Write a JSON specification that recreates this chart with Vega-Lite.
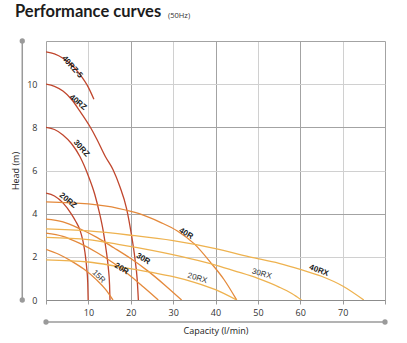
{
  "$schema": "https://vega.github.io/schema/vega-lite/v6.json",
  "width": 339,
  "height": 259,
  "autosize": {"type": "none"},
  "padding": {"left": 46, "top": 41, "right": 22, "bottom": 43},
  "background": "white",
  "config": {"view": {"stroke": null}, "font": "Open Sans"},
  "title": {"text": "Performance curves", "anchor": "start", "frame": "group", "dx": -31, "offset": -21.5, "baseline": "alphabetic", "font": "Lato", "fontSize": 16.5, "fontWeight": "bold", "color": "#1c1c1c"},
  "datasets": {
    "curves": [
      {"s": "40RZ-5", "q": 0, "h": 11.5}, {"s": "40RZ-5", "q": 2, "h": 11.4}, {"s": "40RZ-5", "q": 4, "h": 11.2}, {"s": "40RZ-5", "q": 6, "h": 10.9}, {"s": "40RZ-5", "q": 8, "h": 10.45}, {"s": "40RZ-5", "q": 10, "h": 9.85}, {"s": "40RZ-5", "q": 11.3, "h": 9.3},
      {"s": "40RZ", "q": 0, "h": 10}, {"s": "40RZ", "q": 2, "h": 9.9}, {"s": "40RZ", "q": 4, "h": 9.68}, {"s": "40RZ", "q": 6, "h": 9.3}, {"s": "40RZ", "q": 8, "h": 8.75}, {"s": "40RZ", "q": 10.3, "h": 8.06}, {"s": "40RZ", "q": 12, "h": 7.45}, {"s": "40RZ", "q": 14, "h": 6.65}, {"s": "40RZ", "q": 15.8, "h": 6.05}, {"s": "40RZ", "q": 17.4, "h": 5.27}, {"s": "40RZ", "q": 19, "h": 4.25}, {"s": "40RZ", "q": 20.1, "h": 3.1}, {"s": "40RZ", "q": 21, "h": 1.9}, {"s": "40RZ", "q": 21.5, "h": 1.0}, {"s": "40RZ", "q": 21.8, "h": 0},
      {"s": "30RZ", "q": 0, "h": 8}, {"s": "30RZ", "q": 2, "h": 7.9}, {"s": "30RZ", "q": 4, "h": 7.65}, {"s": "30RZ", "q": 6, "h": 7.25}, {"s": "30RZ", "q": 8, "h": 6.65}, {"s": "30RZ", "q": 10, "h": 5.75}, {"s": "30RZ", "q": 11.5, "h": 4.9}, {"s": "30RZ", "q": 12.6, "h": 4.05}, {"s": "30RZ", "q": 13.5, "h": 3.2}, {"s": "30RZ", "q": 14.2, "h": 2.3}, {"s": "30RZ", "q": 14.7, "h": 1.5}, {"s": "30RZ", "q": 15, "h": 0.7}, {"s": "30RZ", "q": 15.1, "h": 0},
      {"s": "20RZ", "q": 0, "h": 4.95}, {"s": "20RZ", "q": 2, "h": 4.82}, {"s": "20RZ", "q": 4, "h": 4.5}, {"s": "20RZ", "q": 6, "h": 3.98}, {"s": "20RZ", "q": 7, "h": 3.65}, {"s": "20RZ", "q": 8, "h": 3.25}, {"s": "20RZ", "q": 8.7, "h": 2.75}, {"s": "20RZ", "q": 9.2, "h": 2.2}, {"s": "20RZ", "q": 9.6, "h": 1.5}, {"s": "20RZ", "q": 9.85, "h": 0.8}, {"s": "20RZ", "q": 9.95, "h": 0},
      {"s": "40R", "q": 0, "h": 4.55}, {"s": "40R", "q": 10, "h": 4.45}, {"s": "40R", "q": 17, "h": 4.25}, {"s": "40R", "q": 22, "h": 4.0}, {"s": "40R", "q": 27, "h": 3.6}, {"s": "40R", "q": 31, "h": 3.2}, {"s": "40R", "q": 35, "h": 2.6}, {"s": "40R", "q": 39, "h": 1.7}, {"s": "40R", "q": 42, "h": 0.95}, {"s": "40R", "q": 45, "h": 0},
      {"s": "30R", "q": 0, "h": 3.75}, {"s": "30R", "q": 4, "h": 3.62}, {"s": "30R", "q": 8, "h": 3.3}, {"s": "30R", "q": 12, "h": 2.9}, {"s": "30R", "q": 16, "h": 2.42}, {"s": "30R", "q": 20, "h": 1.92}, {"s": "30R", "q": 24, "h": 1.35}, {"s": "30R", "q": 28, "h": 0.7}, {"s": "30R", "q": 32, "h": 0},
      {"s": "20R", "q": 0, "h": 3.1}, {"s": "20R", "q": 4, "h": 2.95}, {"s": "20R", "q": 8, "h": 2.62}, {"s": "20R", "q": 12, "h": 2.2}, {"s": "20R", "q": 16, "h": 1.7}, {"s": "20R", "q": 20, "h": 1.1}, {"s": "20R", "q": 23, "h": 0.6}, {"s": "20R", "q": 26.5, "h": 0},
      {"s": "15R", "q": 0, "h": 2.35}, {"s": "15R", "q": 3, "h": 2.12}, {"s": "15R", "q": 6, "h": 1.8}, {"s": "15R", "q": 9, "h": 1.42}, {"s": "15R", "q": 12, "h": 0.92}, {"s": "15R", "q": 14, "h": 0.5}, {"s": "15R", "q": 15.8, "h": 0},
      {"s": "40RX", "q": 0, "h": 3.3}, {"s": "40RX", "q": 10, "h": 3.2}, {"s": "40RX", "q": 20, "h": 3.0}, {"s": "40RX", "q": 30, "h": 2.75}, {"s": "40RX", "q": 40, "h": 2.38}, {"s": "40RX", "q": 48, "h": 2.0}, {"s": "40RX", "q": 55, "h": 1.7}, {"s": "40RX", "q": 60, "h": 1.42}, {"s": "40RX", "q": 65, "h": 1.1}, {"s": "40RX", "q": 70, "h": 0.65}, {"s": "40RX", "q": 75, "h": 0},
      {"s": "30RX", "q": 0, "h": 2.9}, {"s": "30RX", "q": 10, "h": 2.8}, {"s": "30RX", "q": 17, "h": 2.58}, {"s": "30RX", "q": 25, "h": 2.3}, {"s": "30RX", "q": 34, "h": 1.92}, {"s": "30RX", "q": 40, "h": 1.62}, {"s": "30RX", "q": 45, "h": 1.32}, {"s": "30RX", "q": 50, "h": 1.0}, {"s": "30RX", "q": 55, "h": 0.6}, {"s": "30RX", "q": 58, "h": 0.3}, {"s": "30RX", "q": 60.3, "h": 0},
      {"s": "20RX", "q": 0, "h": 1.86}, {"s": "20RX", "q": 10, "h": 1.76}, {"s": "20RX", "q": 17, "h": 1.55}, {"s": "20RX", "q": 25, "h": 1.28}, {"s": "20RX", "q": 30, "h": 1.08}, {"s": "20RX", "q": 35, "h": 0.82}, {"s": "20RX", "q": 40, "h": 0.48}, {"s": "20RX", "q": 45, "h": 0}
    ],
    "labels": [
      {"s": "40RZ-5", "q": 6.15, "h": 10.79},
      {"s": "40RZ", "q": 7.5, "h": 9.15},
      {"s": "30RZ", "q": 8.3, "h": 7.02},
      {"s": "20RZ", "q": 5.15, "h": 4.6},
      {"s": "15R", "q": 12.4, "h": 1.08},
      {"s": "20R", "q": 17.8, "h": 1.44},
      {"s": "30R", "q": 22.9, "h": 1.9},
      {"s": "40R", "q": 33.0, "h": 3.07},
      {"s": "20RX", "q": 35.7, "h": 1.0},
      {"s": "30RX", "q": 50.9, "h": 1.2},
      {"s": "40RX", "q": 64.4, "h": 1.36}
    ],
    "yline": [{"q": -5.6, "h": 0, "h2": 12}],
    "xline": [{"q": 0, "q2": 80, "h": -1.02}],
    "dots": [{"q": -5.6, "h": 0}, {"q": -5.6, "h": 12}, {"q": 0, "h": -1.02}, {"q": 80, "h": -1.02}],
    "note": [{"t": "(50Hz)", "q": 31.4, "h": 13.05}]
  },
  "layer": [
    {
      "data": {"name": "curves"},
      "mark": {"type": "line", "interpolate": "monotone", "strokeWidth": 1.3, "clip": true},
      "encoding": {
        "x": {"field": "q", "type": "quantitative", "scale": {"domain": [0, 80], "nice": false, "zero": false},
          "axis": {"values": [0, 5, 10, 15, 20, 25, 30, 35, 40, 45, 50, 55, 60, 65, 70, 75, 80], "grid": true,
            "gridColor": {"condition": {"test": "datum.value % 20 === 0", "value": "#a3a3a3"}, "value": "#d0d0d0"}, "gridWidth": 1,
            "ticks": true, "tickSize": 4, "tickColor": "#9a9a9a", "domain": true, "domainColor": "#8c8c8c",
            "labelExpr": "datum.value % 10 === 0 && datum.value > 0 && datum.value < 80 ? datum.label : ''",
            "labelPadding": 4, "labelFontSize": 9, "labelColor": "#333333", "labelFont": "Open Sans",
            "title": "Capacity (l/min)", "titleFont": "Open Sans", "titleFontSize": 9, "titleFontWeight": "normal", "titleColor": "#222222", "titlePadding": 9}},
        "y": {"field": "h", "type": "quantitative", "scale": {"domain": [0, 12], "nice": false, "zero": false},
          "axis": {"values": [0, 1, 2, 3, 4, 5, 6, 7, 8, 9, 10, 11, 12], "grid": true,
            "gridColor": {"condition": {"test": "datum.value % 4 === 0", "value": "#a3a3a3"}, "value": "#d0d0d0"}, "gridWidth": 1,
            "ticks": false, "tickSize": 0, "domain": false,
            "labelExpr": "datum.value % 2 === 0 && datum.value <= 10 ? datum.label : ''",
            "labelPadding": 9, "labelFontSize": 9, "labelColor": "#333333", "labelFont": "Open Sans",
            "title": "Head (m)", "titleFont": "Open Sans", "titleFontSize": 9, "titleFontWeight": "normal", "titleColor": "#222222", "titlePadding": 6}},
        "color": {"field": "s", "type": "nominal", "legend": null,
          "scale": {"domain": ["40RZ-5", "40RZ", "30RZ", "20RZ", "40R", "30R", "20R", "15R", "40RX", "30RX", "20RX"],
            "range": ["#c0462d", "#c0462d", "#c0462d", "#c0462d", "#e4893b", "#e4893b", "#e4893b", "#e4893b", "#eeb24f", "#eeb24f", "#eeb24f"]}},
        "detail": {"field": "s"}
      }
    },
    {
      "data": {"name": "yline"},
      "mark": {"type": "rule", "color": "#9a9a9a", "strokeWidth": 1.5},
      "encoding": {"x": {"field": "q", "type": "quantitative", "scale": {"domain": [0, 80], "nice": false, "zero": false}}, "y": {"field": "h", "type": "quantitative", "scale": {"domain": [0, 12], "nice": false, "zero": false}}, "y2": {"field": "h2"}}
    },
    {
      "data": {"name": "xline"},
      "mark": {"type": "rule", "color": "#9a9a9a", "strokeWidth": 1.5},
      "encoding": {"x": {"field": "q", "type": "quantitative", "scale": {"domain": [0, 80], "nice": false, "zero": false}}, "x2": {"field": "q2"}, "y": {"field": "h", "type": "quantitative", "scale": {"domain": [0, 12], "nice": false, "zero": false}}}
    },
    {
      "data": {"name": "dots"},
      "mark": {"type": "point", "filled": true, "color": "#9a9a9a", "size": 28, "opacity": 1},
      "encoding": {"x": {"field": "q", "type": "quantitative", "scale": {"domain": [0, 80], "nice": false, "zero": false}}, "y": {"field": "h", "type": "quantitative", "scale": {"domain": [0, 12], "nice": false, "zero": false}}}
    },
    {
      "data": {"name": "note"},
      "mark": {"type": "text", "font": "Open Sans", "fontSize": 7.5, "color": "#333333", "align": "center", "baseline": "alphabetic"},
      "encoding": {"x": {"field": "q", "type": "quantitative", "scale": {"domain": [0, 80], "nice": false, "zero": false}}, "y": {"field": "h", "type": "quantitative", "scale": {"domain": [0, 12], "nice": false, "zero": false}}, "text": {"field": "t"}}
    },
    {
      "data": {"name": "labels"},
      "transform": [{"filter": {"field": "s", "oneOf": ["40RZ-5", "30RZ"]}}],
      "mark": {"type": "text", "font": "Liberation Sans", "fontSize": 8, "fontWeight": "bold", "color": "#1a1a1a", "angle": 48, "align": "center", "baseline": "middle"},
      "encoding": {"x": {"field": "q", "type": "quantitative", "scale": {"domain": [0, 80], "nice": false, "zero": false}}, "y": {"field": "h", "type": "quantitative", "scale": {"domain": [0, 12], "nice": false, "zero": false}}, "text": {"field": "s"}}
    },
    {
      "data": {"name": "labels"},
      "transform": [{"filter": {"field": "s", "oneOf": ["40RZ", "20RZ"]}}],
      "mark": {"type": "text", "font": "Liberation Sans", "fontSize": 8, "fontWeight": "bold", "color": "#1a1a1a", "angle": 39, "align": "center", "baseline": "middle"},
      "encoding": {"x": {"field": "q", "type": "quantitative", "scale": {"domain": [0, 80], "nice": false, "zero": false}}, "y": {"field": "h", "type": "quantitative", "scale": {"domain": [0, 12], "nice": false, "zero": false}}, "text": {"field": "s"}}
    },
    {
      "data": {"name": "labels"},
      "transform": [{"filter": {"field": "s", "oneOf": ["20R", "30R", "40R"]}}],
      "mark": {"type": "text", "font": "Liberation Sans", "fontSize": 8, "fontWeight": "bold", "color": "#1a1a1a", "angle": 31, "align": "center", "baseline": "middle"},
      "encoding": {"x": {"field": "q", "type": "quantitative", "scale": {"domain": [0, 80], "nice": false, "zero": false}}, "y": {"field": "h", "type": "quantitative", "scale": {"domain": [0, 12], "nice": false, "zero": false}}, "text": {"field": "s"}}
    },
    {
      "data": {"name": "labels"},
      "transform": [{"filter": {"field": "s", "oneOf": ["40RX"]}}],
      "mark": {"type": "text", "font": "Liberation Sans", "fontSize": 8, "fontWeight": "bold", "color": "#1a1a1a", "angle": 20, "align": "center", "baseline": "middle"},
      "encoding": {"x": {"field": "q", "type": "quantitative", "scale": {"domain": [0, 80], "nice": false, "zero": false}}, "y": {"field": "h", "type": "quantitative", "scale": {"domain": [0, 12], "nice": false, "zero": false}}, "text": {"field": "s"}}
    },
    {
      "data": {"name": "labels"},
      "transform": [{"filter": {"field": "s", "oneOf": ["15R"]}}],
      "mark": {"type": "text", "font": "Liberation Sans", "fontSize": 8, "fontWeight": "normal", "color": "#333333", "angle": 45, "align": "center", "baseline": "middle"},
      "encoding": {"x": {"field": "q", "type": "quantitative", "scale": {"domain": [0, 80], "nice": false, "zero": false}}, "y": {"field": "h", "type": "quantitative", "scale": {"domain": [0, 12], "nice": false, "zero": false}}, "text": {"field": "s"}}
    },
    {
      "data": {"name": "labels"},
      "transform": [{"filter": {"field": "s", "oneOf": ["20RX", "30RX"]}}],
      "mark": {"type": "text", "font": "Liberation Sans", "fontSize": 8, "fontWeight": "normal", "color": "#333333", "angle": 16, "align": "center", "baseline": "middle"},
      "encoding": {"x": {"field": "q", "type": "quantitative", "scale": {"domain": [0, 80], "nice": false, "zero": false}}, "y": {"field": "h", "type": "quantitative", "scale": {"domain": [0, 12], "nice": false, "zero": false}}, "text": {"field": "s"}}
    }
  ]
}
